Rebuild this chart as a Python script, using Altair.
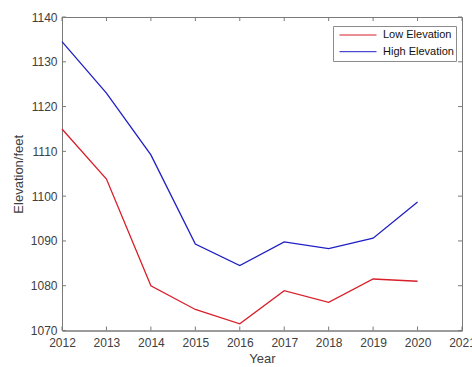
import altair as alt
import pandas as pd

# Lake elevation by year for the two measuring stations
years = [2012, 2013, 2014, 2015, 2016, 2017, 2018, 2019, 2020]
low_elevation = [1115.0, 1103.8, 1080.0, 1074.7, 1071.5, 1078.9, 1076.3, 1081.5, 1081.0]
high_elevation = [1134.5, 1123.0, 1109.2, 1089.3, 1084.5, 1089.8, 1088.3, 1090.6, 1098.7]
series_names = ["Low Elevation", "High Elevation"]
series_colors = ["#d81f2a", "#1f1fc4"]

x_ticks = [2012, 2013, 2014, 2015, 2016, 2017, 2018, 2019, 2020, 2021]
y_ticks = [1070, 1080, 1090, 1100, 1110, 1120, 1130, 1140]

W, H = 400, 313.5
TICK = 4
AXIS_GRAY = "#7a7a7a"
TEXT_GRAY = "#404040"
FONT = "Liberation Sans"

df = pd.concat([
    pd.DataFrame({"Year": years, "Elevation": low_elevation, "Series": series_names[0]}),
    pd.DataFrame({"Year": years, "Elevation": high_elevation, "Series": series_names[1]}),
])

x_scale = alt.Scale(domain=[2012, 2021], nice=False, zero=False)
y_scale = alt.Scale(domain=[1070, 1140], nice=False, zero=False)

lines = alt.Chart(df).mark_line(strokeWidth=1.3).encode(
    x=alt.X("Year:Q", scale=x_scale,
            axis=alt.Axis(values=x_ticks, format="d", title="Year", ticks=False,
                          tickSize=0, labelPadding=7, titlePadding=4, grid=False,
                          labelFlush=False, labelOverlap=False)),
    y=alt.Y("Elevation:Q", scale=y_scale,
            axis=alt.Axis(values=y_ticks, format="d", title="Elevation/feet", ticks=False,
                          tickSize=0, labelPadding=5, titlePadding=5, grid=False,
                          labelFlush=False, labelOverlap=False)),
    color=alt.Color("Series:N",
                    scale=alt.Scale(domain=series_names, range=series_colors),
                    sort=series_names,
                    legend=alt.Legend(title=None, orient="none", legendX=271, legendY=9,
                                      symbolType="stroke", symbolSize=1369,
                                      symbolStrokeWidth=1, symbolOffset=4,
                                      labelOffset=6, clipHeight=14, rowPadding=2.7,
                                      strokeColor="#8c8c8c", padding=2,
                                      fillColor="white", labelFontSize=11,
                                      labelColor="#111111", labelFont=FONT)),
)

# Inward-pointing tick marks on all four sides of the box
xt = pd.DataFrame({"Year": x_ticks})
yt = pd.DataFrame({"Elevation": y_ticks})
tick_style = dict(color=AXIS_GRAY, strokeWidth=1)
x_bottom = alt.Chart(xt).mark_rule(**tick_style).encode(
    x=alt.X("Year:Q", scale=x_scale), y=alt.value(H), y2=alt.value(H - TICK))
x_top = alt.Chart(xt).mark_rule(**tick_style).encode(
    x=alt.X("Year:Q", scale=x_scale), y=alt.value(0), y2=alt.value(TICK))
y_left = alt.Chart(yt).mark_rule(**tick_style).encode(
    y=alt.Y("Elevation:Q", scale=y_scale), x=alt.value(0), x2=alt.value(TICK))
y_right = alt.Chart(yt).mark_rule(**tick_style).encode(
    y=alt.Y("Elevation:Q", scale=y_scale), x=alt.value(W), x2=alt.value(W - TICK))

chart = alt.layer(x_bottom, x_top, y_left, y_right, lines).properties(
    width=W, height=H,
    background="white",
    autosize=alt.AutoSizeParams(type="none"),
    padding={"left": 62, "top": 17, "right": 10, "bottom": 37},
).configure_view(
    stroke=AXIS_GRAY, strokeWidth=1
).configure_axis(
    domainColor=AXIS_GRAY, labelColor=TEXT_GRAY, titleColor=TEXT_GRAY,
    labelFont=FONT, titleFont=FONT, labelFontSize=12, titleFontSize=13,
    titleFontWeight="normal"
)

chart.save("out.html", embed_options={"renderer": "svg", "actions": False})
